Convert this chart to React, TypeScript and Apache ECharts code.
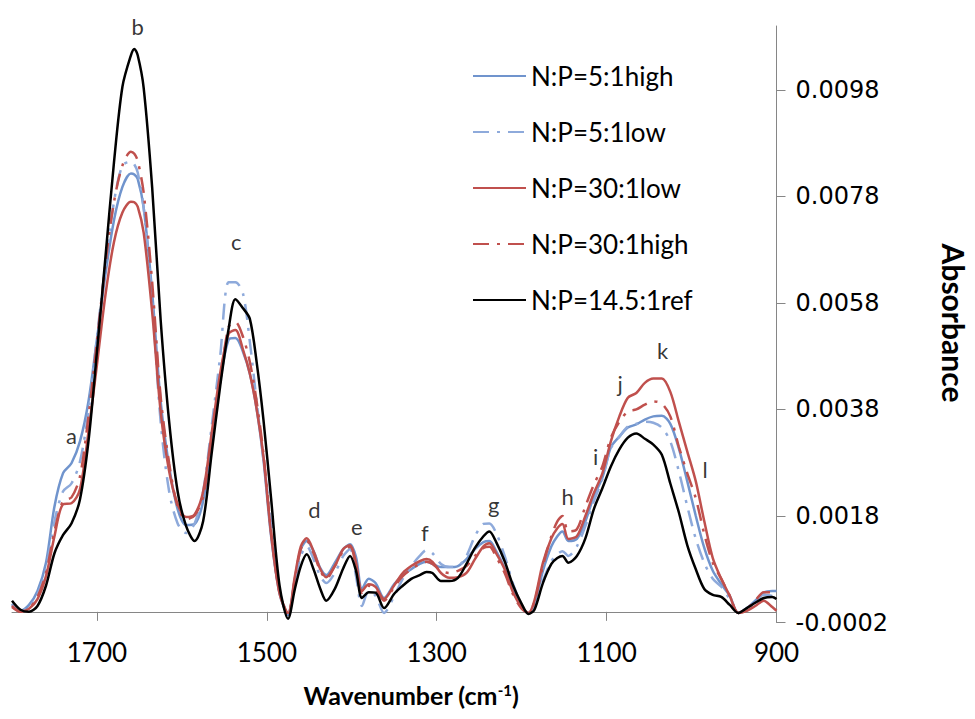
import React, { useEffect, useRef } from 'react';
import * as echarts from 'echarts';

// Wavenumber grid (cm-1), descending
const wavenumbers = [1800, 1790, 1780, 1770, 1760, 1750, 1740, 1730, 1720, 1710, 1700, 1690, 1680, 1670, 1660, 1656, 1652, 1645, 1635, 1625, 1615, 1605, 1595, 1585, 1575, 1565, 1555, 1545, 1537, 1528, 1520, 1512, 1504, 1495, 1485, 1475, 1467, 1460, 1453, 1445, 1437, 1430, 1420, 1410, 1402, 1395, 1388, 1380, 1372, 1362, 1350, 1340, 1330, 1320, 1312, 1305, 1295, 1285, 1275, 1265, 1255, 1245, 1238, 1230, 1220, 1210, 1200, 1192, 1185, 1175, 1165, 1158, 1152, 1145, 1135, 1125, 1115, 1105, 1095, 1085, 1075, 1065, 1055, 1045, 1035, 1025, 1015, 1005, 995, 985, 975, 965, 955, 945, 935, 925, 915, 905, 900];

const np5High = [0.00015, 0.00002, 0.00013, 0.00039, 0.00092, 0.00198, 0.0026, 0.00279, 0.0032, 0.00395, 0.00512, 0.00634, 0.00735, 0.00798, 0.00823, 0.00821, 0.00813, 0.00759, 0.006, 0.00395, 0.00273, 0.00193, 0.00163, 0.00165, 0.00208, 0.0032, 0.00432, 0.00511, 0.00514, 0.00488, 0.00447, 0.00381, 0.00286, 0.00142, 0.00034, -0.00006, 0.00062, 0.00118, 0.00133, 0.00114, 0.00082, 0.00069, 0.00092, 0.00118, 0.00127, 0.00103, 0.00043, 0.00062, 0.00054, 0.00026, 0.00052, 0.00069, 0.0008, 0.0009, 0.00094, 0.0009, 0.00084, 0.00084, 0.00086, 0.00099, 0.00118, 0.00131, 0.00133, 0.00114, 0.00082, 0.00039, 0.00009, -0.00002, 0.00015, 0.00077, 0.00123, 0.00142, 0.00151, 0.00133, 0.00137, 0.0017, 0.00217, 0.00252, 0.00309, 0.00329, 0.00346, 0.00352, 0.00361, 0.00367, 0.00368, 0.00353, 0.00307, 0.00245, 0.0018, 0.0012, 0.00077, 0.00052, 0.0003, -0.00002, 0.00007, 0.00021, 0.00036, 0.00039, 0.00039];

const np5Low = [0.00013, 0.00002, 0.00009, 0.00032, 0.0008, 0.0017, 0.00226, 0.00241, 0.00282, 0.00376, 0.00516, 0.00653, 0.00769, 0.00838, 0.00845, 0.0084, 0.00825, 0.00759, 0.00582, 0.00357, 0.00226, 0.00166, 0.00148, 0.00166, 0.00226, 0.00348, 0.00479, 0.00619, 0.00619, 0.00597, 0.00507, 0.00395, 0.00286, 0.0017, 0.00039, -0.00002, 0.00054, 0.00105, 0.00123, 0.00099, 0.00067, 0.00054, 0.00073, 0.00105, 0.00118, 0.00067, 0.00011, 0.00039, 0.0003, -0.00002, 0.0003, 0.00062, 0.00086, 0.00105, 0.00116, 0.0011, 0.0009, 0.00084, 0.00086, 0.00105, 0.00142, 0.00165, 0.00166, 0.00148, 0.00105, 0.00052, 0.00013, -0.00002, 0.00009, 0.00058, 0.00095, 0.00108, 0.00114, 0.00105, 0.00123, 0.00161, 0.00208, 0.00249, 0.00307, 0.00329, 0.00348, 0.00353, 0.00357, 0.00355, 0.00346, 0.0032, 0.00264, 0.00198, 0.00137, 0.00092, 0.00062, 0.00047, 0.00024, -0.00002, 0.00006, 0.00019, 0.00032, 0.0003, 0.00026];

const np30Low = [0.00009, 0, 0.00006, 0.00024, 0.00067, 0.00142, 0.00202, 0.00204, 0.0023, 0.00338, 0.00464, 0.00595, 0.00694, 0.0075, 0.0077, 0.00769, 0.00761, 0.00712, 0.00563, 0.00376, 0.00264, 0.00202, 0.00178, 0.00183, 0.00226, 0.00335, 0.00447, 0.00522, 0.00529, 0.00492, 0.00447, 0.00381, 0.00292, 0.00146, 0.00034, -0.00002, 0.00067, 0.00123, 0.00138, 0.00114, 0.0008, 0.00065, 0.00086, 0.00118, 0.00125, 0.00092, 0.00039, 0.00052, 0.00047, 0.00024, 0.0005, 0.00073, 0.00086, 0.00095, 0.00099, 0.00094, 0.00073, 0.00064, 0.00065, 0.00073, 0.00099, 0.00123, 0.00129, 0.0011, 0.0008, 0.00036, 0.00009, -0.00002, 0.00021, 0.00092, 0.00138, 0.00157, 0.00165, 0.00137, 0.00142, 0.0018, 0.00223, 0.0026, 0.0032, 0.00367, 0.00402, 0.00411, 0.0043, 0.00438, 0.00438, 0.00413, 0.00357, 0.00301, 0.00245, 0.0017, 0.00101, 0.00062, 0.0003, -0.00002, 0.00002, 0.00011, 0.00021, 0.00009, 0.00002];

const np30High = [0.00011, 0, 0.00006, 0.00028, 0.00073, 0.00151, 0.00208, 0.00215, 0.00254, 0.00367, 0.00507, 0.00653, 0.00769, 0.00838, 0.00864, 0.0086, 0.00847, 0.00787, 0.00619, 0.00404, 0.00279, 0.00198, 0.00174, 0.00181, 0.00217, 0.0032, 0.00432, 0.00535, 0.00544, 0.00516, 0.00469, 0.00395, 0.00297, 0.00151, 0.00036, -0.00004, 0.00062, 0.00118, 0.00133, 0.0011, 0.00077, 0.00062, 0.00086, 0.00114, 0.00122, 0.00086, 0.00036, 0.00049, 0.00043, 0.00021, 0.00047, 0.00067, 0.0008, 0.0009, 0.00094, 0.0009, 0.00077, 0.00073, 0.00077, 0.00086, 0.00105, 0.0012, 0.00122, 0.00103, 0.00073, 0.00032, 0.00006, -0.00002, 0.00019, 0.00086, 0.00142, 0.0017, 0.0018, 0.00151, 0.00155, 0.00198, 0.00239, 0.00273, 0.00327, 0.00357, 0.00376, 0.0038, 0.00389, 0.00395, 0.00391, 0.00367, 0.0031, 0.0026, 0.00213, 0.00146, 0.00092, 0.00062, 0.0003, -0.00002, 0.00006, 0.00021, 0.00037, 0.00037, 0.00039];

const np14Ref = [0.00021, 0.00004, 0, 0.00011, 0.00049, 0.0011, 0.00144, 0.00166, 0.00211, 0.0032, 0.00488, 0.00666, 0.00843, 0.00986, 0.01045, 0.01057, 0.01045, 0.00984, 0.00797, 0.00548, 0.00357, 0.00226, 0.00161, 0.00133, 0.0017, 0.00297, 0.00423, 0.00531, 0.00587, 0.0057, 0.0055, 0.00469, 0.00361, 0.00213, 0.00049, -0.00013, 0.00043, 0.00086, 0.00108, 0.0008, 0.00043, 0.00021, 0.00043, 0.00082, 0.00105, 0.00077, 0.00026, 0.00037, 0.00036, 0.00007, 0.00034, 0.00049, 0.00062, 0.00069, 0.00075, 0.00073, 0.00058, 0.00058, 0.00064, 0.0009, 0.0012, 0.00142, 0.00151, 0.00131, 0.00095, 0.00049, 0.00015, -0.00004, 0.00004, 0.00054, 0.0009, 0.00101, 0.00105, 0.00092, 0.00105, 0.00138, 0.00193, 0.00232, 0.00273, 0.00305, 0.00327, 0.00335, 0.00325, 0.00314, 0.00295, 0.00241, 0.00187, 0.00125, 0.0008, 0.00043, 0.00032, 0.00028, 0.00013, -0.00002, 0.00007, 0.00017, 0.00026, 0.00028, 0.00024];

const seriesNames = ['N:P=5:1high', 'N:P=5:1low', 'N:P=30:1low', 'N:P=30:1high', 'N:P=14.5:1ref'];

// Peak annotation letters and their anchor positions (wavenumber, absorbance)
const peakLetters = ['a', 'b', 'c', 'd', 'e', 'f', 'g', 'h', 'i', 'j', 'k', 'l'];
const peakLetterWavenumbers = [1730, 1652, 1536, 1444, 1394, 1314, 1233, 1146, 1113, 1084, 1034, 984];
const peakLetterAbsorbance = [0.00332, 0.0110, 0.00695, 0.00193, 0.0016, 0.00149, 0.00201, 0.00216, 0.00291, 0.00428, 0.00491, 0.00268];

const xTickValues = [900, 1100, 1300, 1500, 1700];
const yTickValues = [-0.0002, 0.0018, 0.0038, 0.0058, 0.0078, 0.0098];

const BLUE = '#7094CD';
const BLUE_LIGHT = '#8EAADB';
const RED = '#C0504D';
const RED_DD = '#C0504D';
const AXIS = '#868686';

export default function App() {
  const ref = useRef<HTMLDivElement>(null);

  useEffect(() => {
    if (!ref.current) return;
    const chart = echarts.init(ref.current, null, { renderer: 'svg' });
    const pairs = (vals: number[]) => wavenumbers.map((w, i) => [w, vals[i]]);
    const dashDot = [16, 8, 3, 8];
    const lineSeries = (name: string, vals: number[], color: string, dashed: boolean) => ({
      name,
      type: 'line',
      data: pairs(vals),
      symbol: 'none',
      smooth: 0.3,
      lineStyle: { color, width: 2.5, type: dashed ? dashDot : 'solid' },
      itemStyle: { color },
      emphasis: { disabled: true },
    });

    chart.setOption({
      animation: false,
      backgroundColor: '#ffffff',
      grid: { left: 12, right: 198.5, top: 26, bottom: 96.5, containLabel: false, outerBoundsMode: 'none' },
      xAxis: {
        type: 'value',
        min: 900,
        max: 1800,
        interval: 200,
        inverse: true,
        axisLine: { show: true, onZero: true, lineStyle: { color: AXIS, width: 1 } },
        axisTick: { show: true, length: 9, lineStyle: { color: AXIS }, customValues: xTickValues },
        axisLabel: {
          customValues: xTickValues,
          formatter: (v: number) => String(v),
          margin: 16,
          fontSize: 26,
          fontFamily: 'Lato',
          color: '#000',
        },
        splitLine: { show: false },
      },
      yAxis: {
        type: 'value',
        position: 'right',
        min: -0.0002,
        max: 0.011,
        interval: 0.002,
        axisLine: { show: true, lineStyle: { color: AXIS, width: 1 } },
        axisTick: { show: true, length: 9, lineStyle: { color: AXIS }, customValues: yTickValues },
        axisLabel: {
          customValues: yTickValues,
          formatter: (v: number) => v.toFixed(4),
          margin: 19,
          fontSize: 24,
          fontFamily: 'DejaVu Sans',
          color: '#000',
        },
        splitLine: { show: false },
      },
      legend: {
        data: seriesNames,
        orient: 'vertical',
        left: 467,
        top: 57,
        itemWidth: 53,
        itemHeight: 14,
        itemGap: 28,
        selectedMode: false,
        itemStyle: { opacity: 0 },
        textStyle: { fontSize: 26, fontFamily: 'Lato', color: '#000', lineHeight: 28 },
      },
      graphic: [
        {
          type: 'text',
          x: 411,
          y: 695,
          style: {
            text: 'Wavenumber (cm{sup|-1})',
            fontFamily: 'Lato',
            fontWeight: 'bold',
            fontSize: 25,
            fill: '#000',
            align: 'center',
            verticalAlign: 'middle',
            rich: {
              sup: { fontFamily: 'Lato', fontWeight: 'bold', fontSize: 15, fill: '#000', verticalAlign: 'top', lineHeight: 25 },
            },
          },
        },
        {
          type: 'text',
          x: 954,
          y: 323,
          rotation: -Math.PI / 2,
          style: {
            text: 'Absorbance',
            fontFamily: 'Lato',
            fontWeight: 'bold',
            fontSize: 30,
            fill: '#000',
            align: 'center',
            verticalAlign: 'middle',
          },
        },
      ],
      series: [
        lineSeries(seriesNames[0], np5High, BLUE, false),
        lineSeries(seriesNames[1], np5Low, BLUE_LIGHT, true),
        lineSeries(seriesNames[2], np30Low, RED, false),
        lineSeries(seriesNames[3], np30High, RED_DD, true),
        lineSeries(seriesNames[4], np14Ref, '#000000', false),
        {
          type: 'scatter',
          silent: true,
          clip: false,
          symbolSize: 1,
          itemStyle: { color: 'rgba(0,0,0,0)' },
          data: peakLetters.map((n, i) => ({ name: n, value: [peakLetterWavenumbers[i], peakLetterAbsorbance[i]] })),
          label: { show: true, position: 'inside', formatter: '{b}', color: '#000', fontSize: 22, fontFamily: 'Lato' },
          z: 5,
        },
      ],
    });
    return () => chart.dispose();
  }, []);

  return <div ref={ref} style={{ position: 'absolute', left: 0, top: 0, width: 975, height: 719 }} />;
}
